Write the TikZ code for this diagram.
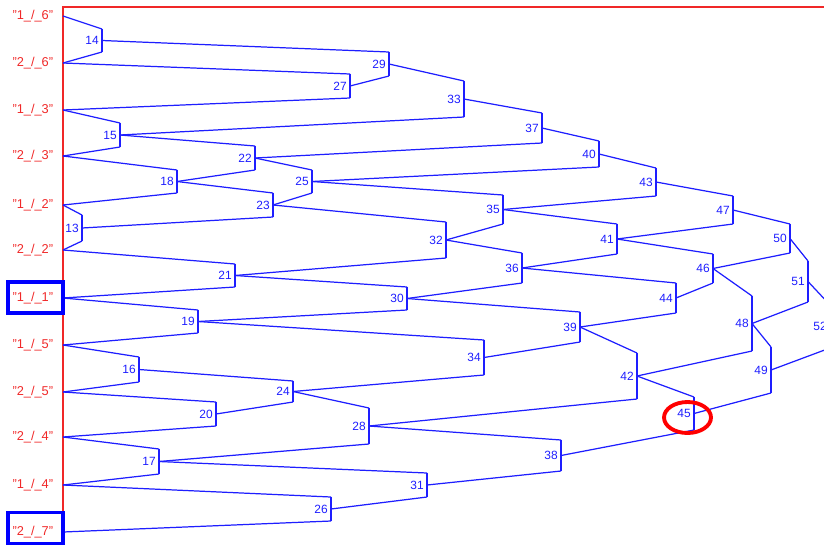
\documentclass[tikz,border=0pt]{standalone}
\usepackage{fontspec}
\setmainfont{Liberation Sans}
\usetikzlibrary{positioning, shapes.geometric}
\definecolor{treeblue}{RGB}{30,30,255}
\definecolor{framered}{RGB}{240,40,40}

\begin{document}
\begin{tikzpicture}[
  x=0.02cm, y=-0.02cm,
  link/.style={draw=treeblue, line width=0.7pt},
  num/.style={text=treeblue, inner sep=0pt, font=\fontsize{6.8}{7}\selectfont},
  leaf/.style={text=framered, inner sep=0pt, font=\fontsize{7.3}{8}\selectfont},
  redline/.style={draw=framered, line width=0.7pt},
  pick/.style={draw=blue, line width=2.2pt, minimum width=11mm, minimum height=6.2mm},
  ring/.style={draw=red, line width=2.2pt, ellipse, minimum width=9.4mm, minimum height=6.2mm}]

  \useasboundingbox (0,0) rectangle (824,545);
  \clip (0,0) rectangle (824,545);

  % frame
  \draw[redline] (63,545) -- (63,7) -- (830,7);

  % leaves
  \foreach \a/\c/\y in {1/6/16, 2/6/63, 1/3/110, 2/3/156, 1/2/205, 2/2/250,
                        1/1/298, 1/5/345, 2/5/392, 2/4/437, 1/4/485, 2/7/532} {
    \coordinate (l\a\c) at (63,\y);
    \node[leaf, left=1.9mm of l\a\c] (txt\a\c) {"\a\_/\_\c"};
  }

  % joints: number / bar x / bar top / bar bottom
  \foreach \n/\xx/\ya/\yb in {13/82/215/241, 14/102/29/52, 15/120/123/147,
      16/139/357/382, 17/159/449/474, 18/177/170/193, 19/198/310/333,
      20/216/402/426, 21/235/264/287, 22/255/146/170, 23/273/193/217,
      24/293/381/402, 25/312/170/193, 26/331/497/521, 27/350/74/98,
      28/369/408/444, 29/389/52/76, 30/407/287/310, 31/427/473/497,
      32/446/222/258, 33/464/81/117, 34/484/340/375, 35/503/195/224,
      36/522/253/283, 37/542/113/143, 38/561/440/471, 39/580/312/342,
      40/599/141/167, 41/617/224/254, 42/637/353/399, 43/656/168/196,
      44/676/283/313, 45/694/397/430, 46/713/254/283, 47/733/196/224,
      48/752/296/351, 49/771/347/393, 50/790/224/253, 51/808/261/302,
      52/830/305/348} {
    \coordinate (t\n) at (\xx,\ya);
    \coordinate (b\n) at (\xx,\yb);
    \coordinate (j\n) at (\xx,{(\ya+\yb)/2});
    \draw[link] (t\n) -- (b\n);
    \node[num, left=0.6mm of j\n] (n\n) {\n};
  }

  % links into bar tops and bottoms
  \foreach \s/\d in {l16/t14, l26/b14, l26/t27, l13/b27, l13/t15, l23/b15,
      l23/t18, l12/b18, l12/t13, l22/b13, l22/t21, l11/b21, l11/t19,
      l15/b19, l15/t16, l25/b16, l25/t20, l24/b20, l24/t17, l14/b17,
      l14/t26, l27/b26,
      j14/t29, j27/b29, j29/t33, j15/b33, j15/t22, j33/t37, j22/b37,
      j22/t25, j18/b22, j18/t23, j13/b23, j23/b25, j23/t32, j25/b40,
      j25/t35, j37/t40, j21/b32, j21/t30, j19/b30, j19/t34, j16/t24,
      j20/b24, j24/b34, j24/t28, j17/b28, j17/t31, j26/b31, j32/b35,
      j32/t36, j30/b36, j30/t39, j34/b39, j28/b42, j28/t38, j31/b38,
      j40/t43, j35/b43, j35/t41, j36/b41, j36/t44, j39/b44, j39/t42,
      j43/t47, j41/b47, j41/t46, j44/b46, j42/b48, j42/t45, j38/b45,
      j47/t50, j46/b50, j46/t48, j45/b49, j50/t51, j48/b51, j48/t49,
      j51/t52, j49/b52}
    \draw[link] (\s) -- (\d);

  % highlights
  \node[pick] (sel11) at (35.5,297.5) {};
  \node[pick] (sel27) at (35.5,528) {};
  \node[ring] (sel45) at (687.5,417.5) {};
\end{tikzpicture}
\end{document}
